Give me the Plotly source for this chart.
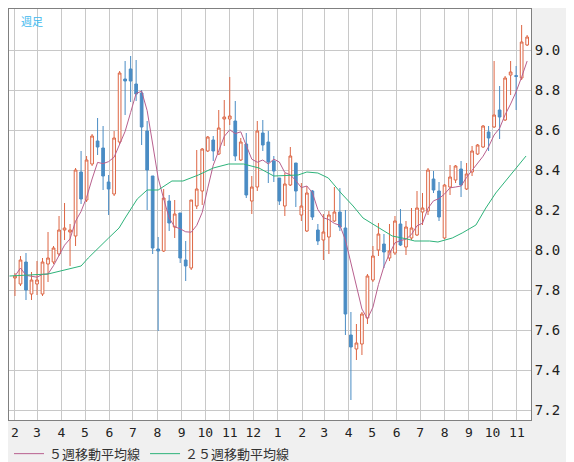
import pandas as pd
import plotly.graph_objects as go

opens = [7.86,7.83,7.94,7.78,7.83,7.78,7.93,7.94,7.98,8.10,8.09,8.07,8.39,8.25,8.43,8.545,8.51,8.34,8.28,
         8.54,8.855,8.905,8.83,8.785,8.595,8.37,8.005,7.995,8.245,8.115,8.185,7.95,7.91,8.22,8.295,8.495,8.55,
         8.48,8.655,8.655,8.645,8.45,8.53,8.245,8.315,8.585,8.54,8.445,8.36,8.22,8.325,8.435,8.175,8.095,8.295,
         8.10,8.05,8.065,8.145,8.19,8.11,7.575,7.505,7.53,7.66,7.85,8.00,8.03,7.96,7.985,8.13,8.015,8.06,
         8.075,8.19,8.195,8.355,8.295,8.06,8.315,8.35,8.405,8.305,8.39,8.48,8.515,8.59,8.615,8.70,8.65,8.875,8.872,8.86,9.025]
closes = [7.87,7.95,7.80,7.85,7.85,7.94,7.96,8.01,8.10,8.11,8.10,8.40,8.255,8.45,8.57,8.515,8.37,8.305,8.56,
          8.885,8.845,8.845,8.78,8.615,8.40,8.01,7.995,8.26,8.135,8.18,7.96,7.92,8.25,8.305,8.505,8.565,8.495,
          8.61,8.665,8.67,8.47,8.54,8.275,8.315,8.595,8.525,8.44,8.395,8.245,8.33,8.47,8.295,8.22,8.285,8.165,
          8.045,8.09,8.175,8.19,8.115,7.68,7.515,7.535,7.68,7.87,7.97,8.08,7.99,7.995,8.145,8.025,8.115,8.11,
          8.21,8.21,8.40,8.30,8.165,8.325,8.365,8.42,8.325,8.38,8.495,8.525,8.62,8.56,8.675,8.665,8.86,8.89,8.868,9.04,9.065]
highs = [7.885,7.97,7.985,7.89,7.945,7.96,8.09,8.02,8.17,8.235,8.13,8.41,8.495,8.47,8.58,8.66,8.62,8.375,8.595,
         8.895,8.945,8.97,8.95,8.80,8.645,8.37,8.065,8.305,8.275,8.25,8.185,8.045,8.25,8.50,8.51,8.57,8.57,
         8.70,8.75,8.865,8.745,8.56,8.585,8.37,8.645,8.65,8.595,8.47,8.36,8.385,8.515,8.435,8.335,8.32,8.30,
         8.13,8.18,8.195,8.315,8.31,8.20,7.69,7.63,7.69,7.88,8.02,8.135,8.08,8.13,8.17,8.205,8.145,8.21,
         8.295,8.285,8.41,8.395,8.34,8.33,8.425,8.425,8.445,8.435,8.52,8.53,8.625,8.62,8.945,8.82,8.87,8.945,8.92,9.125,9.075]
lows = [7.77,7.82,7.75,7.75,7.775,7.77,7.84,7.93,7.97,8.05,7.92,8.02,8.23,8.24,8.42,8.475,8.30,8.175,8.27,
        8.53,8.675,8.74,8.745,8.525,8.20,7.98,7.595,7.99,8.095,8.06,7.935,7.845,7.90,8.205,8.225,8.49,8.445,
        8.475,8.52,8.625,8.445,8.445,8.26,8.18,8.295,8.495,8.335,8.34,8.225,8.17,8.32,8.215,8.145,8.09,8.15,
        8.025,7.95,7.98,8.14,8.095,7.575,7.25,7.45,7.475,7.63,7.84,7.97,7.91,7.945,7.975,8.02,7.975,8.05,
        8.07,8.125,8.175,8.285,8.145,8.055,8.275,8.335,8.265,8.30,8.37,8.475,8.51,8.495,8.61,8.555,8.645,8.775,8.70,8.85,9.02]

# 25-week moving average at (candle index, value)
ma25_idx = [-1, 6, 12, 13.3, 17, 18.9, 20, 22.2, 24, 26, 28.5, 30.5, 33.3, 36, 38.8, 41.5, 44.3, 47, 51.4, 53,
            55, 56.9, 59.2, 61.4, 63.2, 65.5, 68.5, 71.2, 72.6, 75.3, 76.8, 79.4, 81.2, 83.7, 85.5, 87.3, 89.2, 91, 92.8]
ma25_val = [7.87, 7.88, 7.92, 7.96, 8.06, 8.11, 8.16, 8.255, 8.30, 8.30, 8.345, 8.345, 8.375, 8.41, 8.43, 8.43,
            8.41, 8.37, 8.375, 8.39, 8.385, 8.36, 8.285, 8.22, 8.16, 8.12, 8.07, 8.055, 8.045, 8.045, 8.04, 8.06,
            8.085, 8.125, 8.21, 8.285, 8.35, 8.41, 8.47]

start = pd.Timestamp("2021-02-01")
dates = [start + pd.Timedelta(days=7 * i) for i in range(len(closes))]
ma25_dates = [start + pd.Timedelta(days=7 * i) for i in ma25_idx]
ma5 = pd.Series(closes).rolling(5, min_periods=1).mean().tolist()

fig = go.Figure()
fig.add_trace(go.Candlestick(
    x=dates, open=opens, high=highs, low=lows, close=closes,
    increasing=dict(line=dict(color="#dd6644", width=1), fillcolor="white"),
    decreasing=dict(line=dict(color="#4a8cc4", width=1), fillcolor="#4a8cc4"),
    whiskerwidth=0, showlegend=False, hoverinfo="skip"))
fig.add_trace(go.Scatter(x=dates, y=ma5, mode="lines", name="５週移動平均線",
                         line=dict(color="#b8608e", width=1)))
fig.add_trace(go.Scatter(x=ma25_dates, y=ma25_val, mode="lines", name="２５週移動平均線",
                         line=dict(color="#2db37a", width=1)))

fig.update_layout(
    width=574, height=462,
    margin=dict(l=1, r=51, t=1, b=50),
    paper_bgcolor="#f0f0f0", plot_bgcolor="white",
    font=dict(family="DejaVu Sans Mono", size=13, color="#222"),
    legend=dict(orientation="h", x=0.0, y=-0.082, xanchor="left", yanchor="middle",
                bgcolor="rgba(0,0,0,0)", font=dict(family="Noto Sans CJK JP", size=13, color="#333")),
    annotations=[dict(text="週足", xref="paper", yref="paper", x=0.02, y=0.995,
                      xanchor="left", yanchor="top", showarrow=False,
                      font=dict(family="Noto Sans CJK JP", size=11, color="#40b8ee"))],
)
fig.update_xaxes(
    type="date", rangeslider_visible=False,
    range=[start - pd.Timedelta(days=7.6), start + pd.Timedelta(days=7 * 93.7)],
    dtick="M1", tickformat="%-m", ticks="", showgrid=True, gridcolor="#c8c8c8",
    showline=True, linecolor="#808080", mirror=True, linewidth=1,
    tickfont=dict(size=13))
fig.update_yaxes(
    side="right", range=[7.15, 9.205], dtick=0.2, tickformat=".1f",
    showgrid=True, gridcolor="#c8c8c8", zeroline=False,
    showline=True, linecolor="#808080", mirror=True, linewidth=1,
    tickfont=dict(size=14))

fig.write_html("out.html")
